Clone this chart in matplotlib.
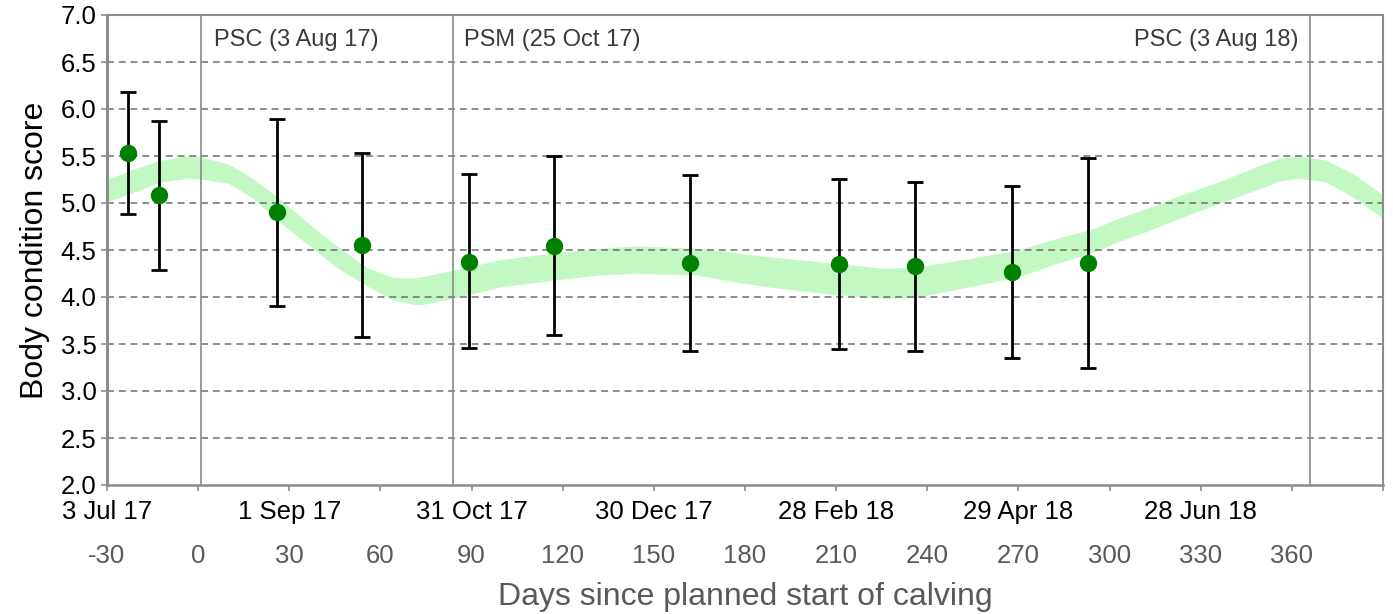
import matplotlib
matplotlib.use("Agg")
import matplotlib.pyplot as plt
import numpy as np

plt.rcParams['font.family'] = ['Liberation Sans', 'DejaVu Sans']

# ---- data ----
days = [-23, -13, 26, 54, 89, 117, 162, 211, 236, 268, 293]
bcs = [5.535, 5.085, 4.90, 4.553, 4.376, 4.546, 4.362, 4.355, 4.326, 4.263, 4.365]
err_hi = [6.18, 5.876, 5.894, 5.535, 5.305, 5.497, 5.294, 5.259, 5.227, 5.177, 5.482]
err_lo = [4.88, 4.284, 3.907, 3.578, 3.454, 3.596, 3.429, 3.447, 3.426, 3.348, 3.248]

band_days = [-30, -19, -13, -4, 1, 10, 18, 26, 37, 46, 56, 64, 69, 73, 84, 100, 117,
             132, 144, 164, 175, 187, 200, 212, 226, 237, 254, 270, 280, 295, 303, 312,
             324, 336, 351, 356, 362, 371, 380, 390]
band_hi = [5.252, 5.386, 5.45, 5.503, 5.49, 5.415, 5.26, 5.067, 4.766, 4.535, 4.305,
           4.21, 4.20, 4.21, 4.287, 4.40, 4.47, 4.52, 4.543, 4.52, 4.48, 4.43, 4.39,
           4.35, 4.305, 4.32, 4.41, 4.50, 4.60, 4.73, 4.84, 4.94, 5.09, 5.227, 5.42,
           5.475, 5.50, 5.457, 5.316, 5.085]
band_lo = [5.014, 5.138, 5.22, 5.263, 5.255, 5.21, 5.05, 4.82, 4.535, 4.305, 4.11,
           3.97, 3.933, 3.915, 3.986, 4.11, 4.18, 4.234, 4.252, 4.234, 4.17, 4.11, 4.06,
           4.02, 3.986, 4.00, 4.11, 4.216, 4.33, 4.48, 4.59, 4.695, 4.85, 4.996, 5.17,
           5.235, 5.263, 5.227, 5.067, 4.837]

event_days = [1, 84, 366]
event_labels = ["PSC (3 Aug 17)", "PSM (25 Oct 17)", "PSC (3 Aug 18)"]

day_ticks = list(range(-30, 391, 30))
date_tick_pos = [-30, 30, 90, 150, 210, 270, 330]
date_tick_labels = ["3 Jul 17", "1 Sep 17", "31 Oct 17", "30 Dec 17", "28 Feb 18",
                    "29 Apr 18", "28 Jun 18"]
y_ticks = [2.0, 2.5, 3.0, 3.5, 4.0, 4.5, 5.0, 5.5, 6.0, 6.5, 7.0]

# ---- figure ----
fig = plt.figure(figsize=(13.93, 6.14), dpi=100)
ax = fig.add_axes([107/1393, 1-485/614, (1383-107)/1393, (485-15)/614])

ax.fill_between(band_days, band_lo, band_hi, color='#c2f9c2', lw=0, zorder=0.5)

ax.set_xlim(-30, 390)
ax.set_ylim(2.0, 7.0)

for y in y_ticks[1:-1]:
    ax.axhline(y, color='#6e6e6e', lw=1.1, dashes=(4.5, 3.2), zorder=1)

for d in event_days:
    ax.axvline(d, color='#8a8a8a', lw=1.2, zorder=1.2)

ax.annotate(event_labels[0], xy=(event_days[0], 6.73), xytext=(9, 0),
            textcoords='offset points', ha='left', va='center', fontsize=17, color='#3a3a3a')
ax.annotate(event_labels[1], xy=(event_days[1], 6.73), xytext=(8, 0),
            textcoords='offset points', ha='left', va='center', fontsize=17, color='#3a3a3a')
ax.annotate(event_labels[2], xy=(event_days[2], 6.73), xytext=(-8, 0),
            textcoords='offset points', ha='right', va='center', fontsize=17, color='#3a3a3a')

yerr = [np.array(bcs) - np.array(err_lo), np.array(err_hi) - np.array(bcs)]
ax.errorbar(days, bcs, yerr=yerr, fmt='o', color='#008000', markersize=11.5,
            ecolor='black', elinewidth=2.0, capsize=6, capthick=2.0, zorder=3)

for sp in ax.spines.values():
    sp.set_color('#8c8c8c')
    sp.set_linewidth(1.5)
ax.spines['left'].set_linewidth(2.2)
ax.spines['bottom'].set_linewidth(1.8)

ax.set_yticks(y_ticks)
ax.set_yticklabels([f"{v:.1f}" for v in y_ticks])
ax.tick_params(axis='y', direction='out', length=4.5, width=1.2, color='#8c8c8c',
               labelsize=18.5, labelcolor='black', pad=3)

ax.set_xticks(day_ticks)
ax.set_xticklabels([str(d) if d <= 360 else "" for d in day_ticks])
ax.tick_params(axis='x', direction='out', length=4.5, width=1.2, color='#8c8c8c',
               labelsize=18.5, labelcolor='#595959', pad=38)

sec = ax.secondary_xaxis('bottom')
sec.set_xticks(date_tick_pos)
sec.set_xticklabels(date_tick_labels)
sec.tick_params(axis='x', length=0, labelsize=18.5, labelcolor='black', pad=11)
sec.spines['bottom'].set_visible(False)

ax.set_xlabel("Days since planned start of calving", fontsize=23, color='#595959',
              labelpad=10)
ax.set_ylabel("Body condition score", fontsize=23, color='black', labelpad=8)

fig.savefig("out.png", dpi=100)
